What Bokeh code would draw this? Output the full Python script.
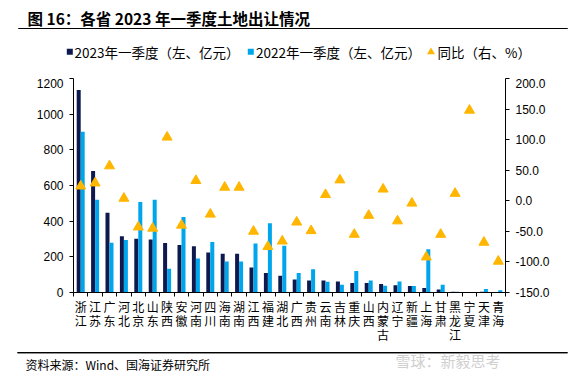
from bokeh.plotting import figure
from bokeh.layouts import column
from bokeh.models import (Range1d, LinearAxis, FixedTicker, NumeralTickFormatter,
                          ColumnDataSource, BoxAnnotation)
from bokeh.core.properties import value
from bokeh.transform import dodge
from bokeh.embed import file_html
from bokeh.resources import INLINE

provinces = ["浙江", "江苏", "广东", "河北", "北京", "山东", "陕西", "安徽", "河南", "四川",
             "海南", "湖南", "江西", "福建", "湖北", "广西", "贵州", "云南", "吉林", "重庆",
             "山西", "内蒙古", "辽宁", "新疆", "上海", "甘肃", "黑龙江", "宁夏", "天津", "青海"]
q1_2023 = [1136, 682, 447, 316, 301, 297, 277, 266, 260, 224,
           217, 217, 140, 109, 94, 73, 67, 67, 62, 53,
           53, 47, 41, 36, 25, 17, 4, 3, 4, 0]
q1_2022 = [901, 520, 279, 295, 508, 520, 133, 424, 191, 283,
           174, 174, 275, 389, 262, 110, 131, 60, 43, 120,
           67, 38, 62, 36, 243, 43, 4, 0, 19, 13]
yoy = [24, 29, 57, 4, -43, -45, 104, -40, 33, -22,
       22, 22, -50, -75, -66, -35, -49, 10, 34, -55,
       -24, 19, -33, -4, -92, -55, 12, 148, -68, -99]
left_ticks = [0, 200, 400, 600, 800, 1000, 1200]
right_ticks = [-150, -100, -50, 0, 50, 100, 150, 200]
title_text = "图 16：各省 2023 年一季度土地出让情况"
legend_labels = ["2023年一季度（左、亿元）", "2022年一季度（左、亿元）", "同比（右、%）"]
source_text = "资料来源：Wind、国海证券研究所"
watermark = "雪球：新毅思考"

DARK = "#0E1A4E"
LIGHT = "#00A6EC"
ORANGE = "#FFB600"
CJK = "Noto Sans CJK SC"
NUM = "Liberation Sans"

W = 588
FL, FR = 73, 505
TOP_H, MAIN_H, FOOT_H = 78, 273, 25
FRAME_H = 214
n = len(provinces)


def blank_fig(h):
    f = figure(width=W, height=h, output_backend="svg", toolbar_location=None,
               x_range=Range1d(0, W), y_range=Range1d(0, h),
               x_axis_type=None, y_axis_type=None,
               min_border=0, min_border_left=0, min_border_right=0,
               min_border_top=0, min_border_bottom=0)
    f.frame_align = False
    f.outline_line_color = None
    f.xgrid.visible = False
    f.ygrid.visible = False
    f.background_fill_color = "white"
    f.border_fill_color = "white"
    return f


def txt(f, x, y, s, size, color="black", font=CJK, style="normal"):
    f.text(x=[x], y=[f.y_range.end - y], text=[s], text_font=value(font),
           text_font_size=size, text_color=color, text_font_style=style,
           text_baseline="middle", text_align="left")


def rule(f, x0, x1, y):
    yy = f.y_range.end - y
    f.add_layout(BoxAnnotation(left=x0, right=x1, top=yy + 0.6, bottom=yy - 0.6,
                               fill_color="black", fill_alpha=1.0, line_color=None,
                               level="overlay"))
    f.scatter(x=[(x0 + x1) / 2], y=[yy], marker="dash", size=x1 - x0,
              line_color="black", line_width=1.2)


def mark(f, x, y, marker, size, color):
    f.scatter(x=[x], y=[f.y_range.end - y], marker=marker, size=size,
              fill_color=color, line_color=None)


# ---------- top: title + legend ----------
top = blank_fig(TOP_H)
txt(top, 27, 17, title_text, "15.5px", style="bold")
rule(top, 18, 567, 28)
mark(top, 69.3, 51.3, "square", 6, DARK)
txt(top, 74, 51.5, legend_labels[0], "13.5px")
mark(top, 250.3, 51.3, "square", 6, LIGHT)
txt(top, 255.5, 51.5, legend_labels[1], "13.5px")
mark(top, 430.5, 51.5, "triangle", 8, ORANGE)
txt(top, 437, 51.5, legend_labels[2], "13.5px")

# ---------- main chart ----------
idx = list(range(n))
src = ColumnDataSource(dict(x=idx, a=q1_2023, b=q1_2022, c=yoy))

p = figure(width=W, height=MAIN_H, output_backend="svg", toolbar_location=None,
           x_range=Range1d(-0.5, n - 0.5), y_range=Range1d(0, 1200),
           min_border_left=FL, min_border_right=W - FR,
           min_border_top=0, min_border_bottom=MAIN_H - FRAME_H)
p.frame_align = False
p.outline_line_color = None
p.background_fill_color = "white"
p.border_fill_color = "white"
p.xgrid.visible = False
p.ygrid.visible = False

bw = 4.0 / ((FR - FL) / n)
p.vbar(x=dodge("x", -bw / 2, range=p.x_range), top="a", width=bw, source=src,
       fill_color=DARK, line_color=None)
p.vbar(x=dodge("x", bw / 2, range=p.x_range), top="b", width=bw, source=src,
       fill_color=LIGHT, line_color=None)

p.extra_y_ranges = {"pct": Range1d(-150, 200)}
p.scatter(x="x", y="c", marker="triangle", size=10, source=src,
          fill_color=ORANGE, line_color=ORANGE, y_range_name="pct")

xa = p.xaxis[0]
xa.ticker = FixedTicker(ticks=idx, minor_ticks=[i - 0.5 for i in range(n + 1)])
xa.major_label_overrides = {i: "\n".join(list(s)) for i, s in enumerate(provinces)}
xa.major_tick_line_color = None
xa.major_tick_out = 0
xa.major_tick_in = 0
xa.minor_tick_out = 4
xa.minor_tick_in = 0
xa.major_label_standoff = 1
xa.major_label_text_font = CJK
xa.major_label_text_font_size = "12px"
xa.major_label_text_line_height = 0.85
xa.major_label_text_color = "black"
xa.axis_line_color = "black"

ya = p.yaxis[0]
ya.ticker = FixedTicker(ticks=left_ticks)
ya.major_tick_in = 0
ya.major_tick_out = 4
ya.minor_tick_line_color = None
ya.major_label_standoff = 6
ya.major_label_text_font = NUM
ya.major_label_text_font_size = "12px"
ya.major_label_text_color = "black"

ra = LinearAxis(y_range_name="pct", ticker=FixedTicker(ticks=right_ticks),
                formatter=NumeralTickFormatter(format="0.0"))
ra.major_tick_in = 0
ra.major_tick_out = 4
ra.minor_tick_line_color = None
ra.major_label_standoff = 6
ra.major_label_text_font = NUM
ra.major_label_text_font_size = "12px"
ra.major_label_text_color = "black"
p.add_layout(ra, "right")

# ---------- footer ----------
foot = blank_fig(FOOT_H)
rule(foot, 17, 567, 1.2)
txt(foot, 25, 13, source_text, "12px")
txt(foot, 395, 9, watermark, "15px", color="#d0d0d0")

layout = column(top, p, foot, spacing=0)
open("out.html", "w").write(file_html(layout, INLINE))
